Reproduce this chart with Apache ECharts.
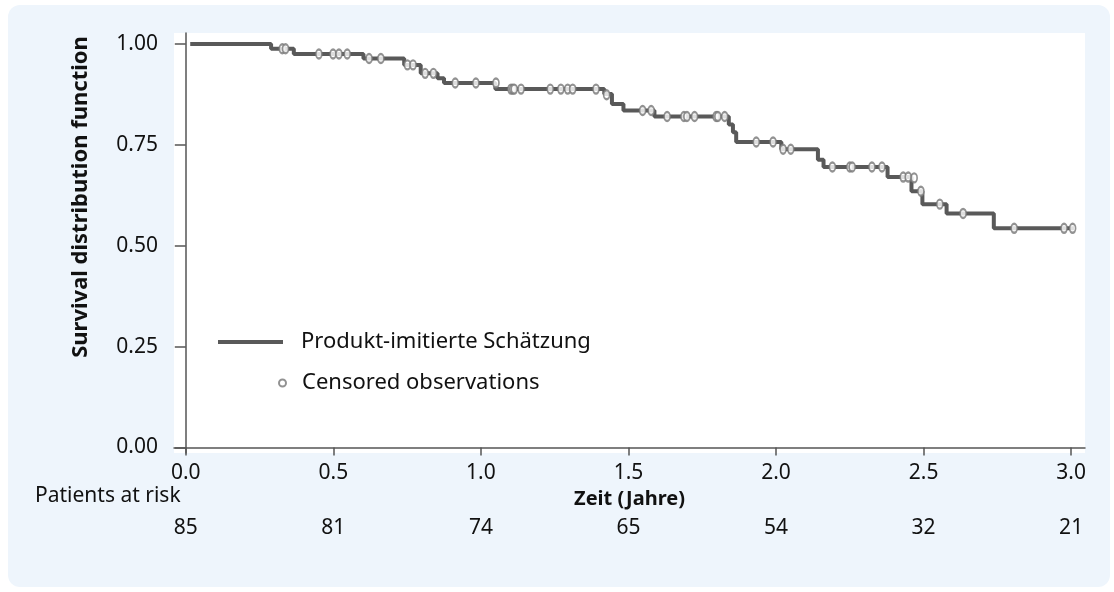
<!DOCTYPE html>
<html>
<head>
<meta charset="utf-8">
<style>
  html, body { margin: 0; padding: 0; background: #fff; }
  #main { width: 1114px; height: 592px; }
</style>
<script src="https://cdn.jsdelivr.net/npm/echarts@6/dist/echarts.min.js"></script>
</head>
<body>
<div id="main"></div>
<script>
// Kaplan-Meier step points: [time in years, survival]
const kmTimes = [0.015, 0.289, 0.366, 0.602, 0.740, 0.796, 0.853, 0.875, 1.049, 1.418, 1.444,
  1.483, 1.588, 1.840, 1.854, 1.865, 2.018, 2.142, 2.161, 2.378, 2.459, 2.496, 2.578, 2.738, 3.010];
const kmSurv = [1.000, 0.988, 0.975, 0.964, 0.948, 0.927, 0.915, 0.903, 0.888, 0.876, 0.851,
  0.835, 0.820, 0.800, 0.781, 0.757, 0.739, 0.713, 0.695, 0.670, 0.635, 0.603, 0.580, 0.543, 0.543];

// censored observations
const censorTimes = [0.327, 0.338, 0.451, 0.499, 0.519, 0.547, 0.621, 0.661, 0.751, 0.770,
  0.811, 0.839, 0.913, 0.983, 1.051, 1.102, 1.108, 1.113, 1.136, 1.235, 1.271, 1.294, 1.311,
  1.390, 1.426, 1.548, 1.577, 1.631, 1.688, 1.698, 1.724, 1.797, 1.803, 1.826, 1.933, 1.990,
  2.024, 2.050, 2.191, 2.250, 2.258, 2.325, 2.359, 2.431, 2.448, 2.468, 2.491, 2.555, 2.634,
  2.807, 2.976, 3.005];
const censorSurv = [0.988, 0.988, 0.975, 0.975, 0.975, 0.975, 0.964, 0.964, 0.948, 0.948,
  0.927, 0.927, 0.903, 0.903, 0.903, 0.888, 0.888, 0.888, 0.888, 0.888, 0.888, 0.888, 0.888,
  0.888, 0.874, 0.835, 0.835, 0.820, 0.820, 0.820, 0.820, 0.820, 0.820, 0.820, 0.757, 0.757,
  0.739, 0.739, 0.695, 0.695, 0.695, 0.695, 0.695, 0.670, 0.670, 0.668, 0.635, 0.603, 0.580,
  0.543, 0.543, 0.543];

const xTicks = [0, 0.5, 1.0, 1.5, 2.0, 2.5, 3.0];
const yTicks = [0, 0.25, 0.5, 0.75, 1.0];
const atRisk = [85, 81, 74, 65, 54, 32, 21];

const font = 'Noto Sans';
const ink = '#111';
const chart = echarts.init(document.getElementById('main'));

const kmData = kmTimes.map((t, i) => [t, kmSurv[i]]);
const censorData = censorTimes.map((t, i) => [t, censorSurv[i]]);

const option = {
  animation: false,
  textStyle: { fontFamily: font },
  graphic: [
    {
      type: 'rect', z: -100,
      shape: { x: 8, y: 5, width: 1102, height: 582, r: 12 },
      style: { fill: '#eef5fc' }
    },
    {
      type: 'text', x: 81, y: 197, rotation: Math.PI / 2,
      style: {
        text: 'Survival distribution function', fontFamily: font, fontSize: 22,
        fontWeight: 'bold', fill: ink, align: 'center', verticalAlign: 'middle'
      }
    },
    {
      type: 'text', x: 35, y: 496,
      style: {
        text: 'Patients at risk', fontFamily: font, fontSize: 21,
        fill: ink, align: 'left', verticalAlign: 'middle'
      }
    }
  ],
  legend: [
    {
      data: [{ name: 'Produkt-imitierte Schätzung', icon: 'rect' }],
      left: 218, top: 331, padding: 0, itemWidth: 65, itemHeight: 4,
      itemStyle: { color: '#595959' },
      textStyle: { fontFamily: font, fontSize: 22, color: ink, padding: [0, 0, 0, 13] }
    },
    {
      data: ['Censored observations'],
      left: 278, top: 372, padding: 0, itemWidth: 7, itemHeight: 9,
      textStyle: { fontFamily: font, fontSize: 22, color: ink, padding: [0, 0, 0, 11] }
    }
  ],
  grid: {
    left: 174, right: 29, top: 33, bottom: 139,
    show: true, backgroundColor: '#fff', borderWidth: 0
  },
  xAxis: [
    {
      type: 'value', min: -0.04, max: 3.047,
      name: 'Zeit (Jahre)', nameLocation: 'middle', nameGap: 32,
      nameTextStyle: { fontFamily: font, fontSize: 20, fontWeight: 'bold', color: ink },
      axisLine: { show: true, lineStyle: { color: '#555', width: 1.5 } },
      axisTick: { show: true, customValues: xTicks, length: 8, lineStyle: { color: '#555', width: 1.5 } },
      axisLabel: {
        customValues: xTicks, margin: 10, fontFamily: font, fontSize: 21, color: ink,
        formatter: v => v.toFixed(1)
      },
      splitLine: { show: false }
    },
    {
      type: 'value', min: -0.04, max: 3.047, position: 'bottom', offset: 62,
      axisLine: { show: false }, axisTick: { show: false }, splitLine: { show: false },
      axisLabel: {
        customValues: xTicks, margin: 3, fontFamily: font, fontSize: 21, color: ink,
        formatter: v => {
          const i = xTicks.findIndex(t => Math.abs(t - v) < 1e-6);
          return i >= 0 ? String(atRisk[i]) : '';
        }
      }
    }
  ],
  yAxis: {
    type: 'value', min: -0.0136, max: 1.027,
    axisLine: { show: true, lineStyle: { color: '#555', width: 1.5 } },
    axisTick: { show: true, customValues: yTicks, length: 11, lineStyle: { color: '#555', width: 1.5 } },
    axisLabel: {
      customValues: yTicks, margin: 16, fontFamily: font, fontSize: 21, color: ink,
      formatter: v => v.toFixed(2)
    },
    splitLine: { show: false }
  },
  series: [
    {
      name: 'Produkt-imitierte Schätzung',
      type: 'line', step: 'end', data: kmData,
      showSymbol: false, symbol: 'none',
      lineStyle: { color: '#595959', width: 4 },
      itemStyle: { color: '#595959' }
    },
    {
      name: 'Censored observations',
      type: 'scatter', data: censorData,
      symbol: 'emptyCircle', symbolSize: [6, 9],
      itemStyle: { color: '#777', borderColor: '#777', borderWidth: 1 },
      z: 3
    }
  ]
};
chart.setOption(option);
</script>
</body>
</html>
